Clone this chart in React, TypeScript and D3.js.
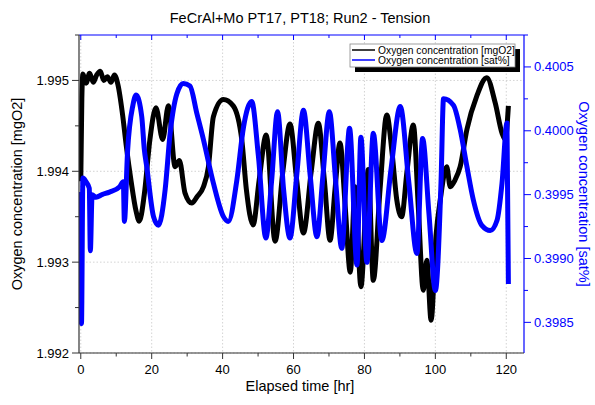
import React from "react";
import * as d3 from "d3";

// ---- Data ----
const TIME_MGO2 = [0, 0.3, 0.6, 1.5, 2.5, 3.5, 4.5, 5.5, 6.5, 7.5, 8.5, 9.5, 10.5, 11.8, 12.8, 14.2, 15.6, 16.5, 17.9, 19.5, 21.2, 23.1, 24.7, 26.6, 27.8, 29.4, 31.3, 32.8, 34.6, 36, 37.4, 40.2, 43, 45.4, 46.7, 48.6, 50.3, 52.3, 54.8, 57, 59, 60.9, 62.8, 65, 67, 68.7, 70.3, 71.7, 73.1, 74.6, 76, 77.4, 79, 81.1, 82.5, 84.4, 86.3, 87.8, 89.1, 90.5, 92, 93.8, 95.2, 96.6, 97.6, 98.8, 100.2, 101.4, 103.2, 104.2, 105.5, 107, 108.9, 111.7, 114.5, 116.9, 118.8, 119.7, 120.6];
const MGO2 = [1.99389, 1.9948, 1.99507, 1.99497, 1.99508, 1.99498, 1.99506, 1.9951, 1.995, 1.99504, 1.99498, 1.99506, 1.99495, 1.99462, 1.99429, 1.99389, 1.99356, 1.99345, 1.99374, 1.99435, 1.9947, 1.99435, 1.99472, 1.99405, 1.99412, 1.99376, 1.99365, 1.99372, 1.99383, 1.99405, 1.9946, 1.99479, 1.99472, 1.99435, 1.9938, 1.99341, 1.9939, 1.9944, 1.99323, 1.994, 1.99452, 1.9939, 1.99332, 1.994, 1.99453, 1.9939, 1.99324, 1.9938, 1.99431, 1.9936, 1.99289, 1.99383, 1.99273, 1.99402, 1.9928, 1.9938, 1.99462, 1.9942, 1.99369, 1.9935, 1.994, 1.99451, 1.9936, 1.99269, 1.99302, 1.99236, 1.9933, 1.99369, 1.99405, 1.99383, 1.9939, 1.99405, 1.99446, 1.99483, 1.99503, 1.99475, 1.99442, 1.99435, 1.99472];

const TIME_SAT = [0, 0.2, 0.6, 1.5, 2.4, 2.7, 3.2, 4.3, 6, 8.1, 10.9, 12, 12.3, 13.2, 14.7, 15.6, 17.2, 17.9, 18.6, 20.5, 21.9, 23.8, 25.2, 27.1, 28.9, 30.8, 32.7, 34.6, 37.4, 40.2, 41.6, 44, 45.9, 48.2, 50.1, 52.2, 53.8, 55.5, 57.2, 59, 60.9, 62.8, 64.7, 66.6, 68.3, 70.1, 71.9, 73.6, 75.8, 77.9, 79, 80.7, 82.5, 84.9, 87.5, 90.1, 92.5, 94.8, 96.4, 98.2, 100, 101.6, 102.3, 105.1, 107, 108.9, 110.7, 113.1, 115.5, 117.4, 118.8, 120.2, 120.6];
const SAT = [0.39952, 0.39849, 0.39963, 0.3996, 0.39955, 0.39906, 0.3995, 0.39948, 0.3995, 0.39952, 0.39956, 0.3996, 0.39929, 0.39984, 0.4002, 0.40028, 0.40011, 0.39986, 0.39972, 0.39933, 0.39926, 0.39954, 0.39998, 0.40029, 0.40037, 0.40035, 0.40014, 0.39993, 0.39959, 0.39933, 0.39929, 0.39961, 0.40003, 0.40023, 0.3998, 0.39916, 0.3996, 0.40015, 0.39954, 0.39916, 0.39965, 0.40016, 0.39965, 0.39917, 0.39965, 0.40015, 0.3996, 0.39908, 0.40002, 0.39895, 0.39995, 0.39897, 0.39998, 0.39914, 0.3997, 0.40019, 0.3996, 0.39904, 0.39994, 0.39935, 0.39875, 0.3996, 0.40025, 0.4002, 0.40001, 0.39972, 0.39946, 0.39926, 0.39922, 0.3993, 0.39959, 0.40006, 0.3988];

const X_TICKS = [0, 20, 40, 60, 80, 100, 120];
const X_MINOR = [10, 30, 50, 70, 90, 110];
const YL_TICKS = [1.992, 1.993, 1.994, 1.995];
const YL_MINOR = [1.9925, 1.9935, 1.9945, 1.9955];
const YR_TICKS = [0.3985, 0.399, 0.3995, 0.4, 0.4005];
const YR_MINOR = [0.39875, 0.39925, 0.39975, 0.40025, 0.40075];

const TITLE = "FeCrAl+Mo PT17, PT18; Run2 - Tension";
const X_LABEL = "Elapsed time [hr]";
const YL_LABEL = "Oxygen concentration [mgO2]";
const YR_LABEL = "Oxygen concentration [sat%]";
const LEGEND = ["Oxygen concentration [mgO2]", "Oxygen concentration [sat%]"];

const FONT = "'Liberation Sans', Arial, sans-serif";
const BLUE = "#0000ff";

export default function App() {
  const W = 595, H = 405;
  const L = 79, R = 524, T = 35, B = 353;
  const x = d3.scaleLinear().domain([-0.5, 125]).range([L, R]);
  const yL = d3.scaleLinear().domain([1.992, 1.9955]).range([B, T]);
  const yR = d3.scaleLinear().domain([0.39826, 0.40075]).range([B, T]);

  const blackPts = TIME_MGO2.map((t, i) => [t, MGO2[i]] as [number, number]);
  const bluePts = TIME_SAT.map((t, i) => [t, SAT[i]] as [number, number]);
  const lineL = d3.line<[number, number]>().x(d => x(d[0])).y(d => yL(d[1])).curve(d3.curveMonotoneX);
  const lineR = d3.line<[number, number]>().x(d => x(d[0])).y(d => yR(d[1])).curve(d3.curveMonotoneX);

  const legX = 350, legY = 44, legW = 165, legH = 23;

  return (
    <svg width={W} height={H} style={{ position: "absolute", left: 0, top: 0, background: "#fff" }} fontFamily={FONT}>
      <defs>
        <clipPath id="plot"><rect x={L} y={T} width={R - L} height={B - T} /></clipPath>
      </defs>
      <rect x={0} y={0} width={W} height={H} fill="#fff" />
      {/* grid */}
      {X_TICKS.map(v => (
        <line key={"gx" + v} x1={x(v)} x2={x(v)} y1={T} y2={B} stroke="#c8c8c8" strokeWidth={0.8} strokeDasharray="1.5,2" />
      ))}
      {YL_TICKS.map(v => (
        <line key={"gy" + v} x1={L} x2={R} y1={yL(v)} y2={yL(v)} stroke="#c8c8c8" strokeWidth={0.8} strokeDasharray="1.5,2" />
      ))}
      {/* data */}
      <g clipPath="url(#plot)">
        <path d={lineL(blackPts) || ""} fill="none" stroke="#000" strokeWidth={5} strokeLinejoin="round" />
        <path d={lineR(bluePts) || ""} fill="none" stroke={BLUE} strokeWidth={5} strokeLinejoin="round" />
      </g>
      {/* top axis (blue) */}
      <line x1={L} x2={R} y1={T} y2={T} stroke={BLUE} strokeWidth={1.2} />
      {X_TICKS.map(v => <line key={"tt" + v} x1={x(v)} x2={x(v)} y1={T} y2={T + 5} stroke={BLUE} strokeWidth={1} />)}
      {X_MINOR.map(v => <line key={"ttm" + v} x1={x(v)} x2={x(v)} y1={T} y2={T + 3} stroke={BLUE} strokeWidth={1} />)}
      {/* right axis (blue) */}
      <line x1={R} x2={R} y1={T} y2={B} stroke={BLUE} strokeWidth={1.2} />
      {YR_TICKS.map(v => (
        <g key={"yr" + v}>
          <line x1={R} x2={R + 7} y1={yR(v)} y2={yR(v)} stroke={BLUE} strokeWidth={1} />
          <text x={R + 10} y={yR(v)} dy="0.35em" fontSize={13} fill={BLUE}>{v.toFixed(4)}</text>
        </g>
      ))}
      {YR_MINOR.map(v => <line key={"yrm" + v} x1={R} x2={R + 4} y1={yR(v)} y2={yR(v)} stroke={BLUE} strokeWidth={1} />)}
      {/* left axis */}
      <line x1={L} x2={L} y1={T} y2={B} stroke="#333" strokeWidth={1.2} />
      {YL_TICKS.map(v => (
        <g key={"yl" + v}>
          <line x1={L - 7} x2={L} y1={yL(v)} y2={yL(v)} stroke="#333" strokeWidth={1} />
          <text x={L - 10} y={yL(v)} dy="0.35em" fontSize={13} textAnchor="end" fill="#000">{v.toFixed(3)}</text>
        </g>
      ))}
      {YL_MINOR.map(v => <line key={"ylm" + v} x1={L - 4} x2={L} y1={yL(v)} y2={yL(v)} stroke="#333" strokeWidth={1} />)}
      {/* bottom axis */}
      <line x1={L} x2={R} y1={B} y2={B} stroke="#333" strokeWidth={1.2} />
      {X_TICKS.map(v => (
        <g key={"xb" + v}>
          <line x1={x(v)} x2={x(v)} y1={B} y2={B + 6} stroke="#333" strokeWidth={1} />
          <text x={x(v)} y={B + 21} fontSize={13} textAnchor="middle" fill="#000">{v}</text>
        </g>
      ))}
      {X_MINOR.map(v => <line key={"xbm" + v} x1={x(v)} x2={x(v)} y1={B} y2={B + 3.5} stroke="#333" strokeWidth={1} />)}
      {/* labels */}
      <text x={300} y={23} fontSize={14.5} textAnchor="middle" fill="#000">{TITLE}</text>
      <text x={300} y={391} fontSize={14.5} textAnchor="middle" fill="#000">{X_LABEL}</text>
      <text transform={`translate(22,${(T + B) / 2}) rotate(-90)`} fontSize={14.5} textAnchor="middle" fill="#000">{YL_LABEL}</text>
      <text transform={`translate(579,${(T + B) / 2}) rotate(90)`} fontSize={14.5} textAnchor="middle" fill={BLUE}>{YR_LABEL}</text>
      {/* legend */}
      <rect x={legX + 5} y={legY + 5} width={legW} height={legH} fill="#000" />
      <rect x={legX} y={legY} width={legW} height={legH} fill="#fff" stroke="#888" strokeWidth={0.8} />
      <line x1={legX + 2} x2={legX + 25} y1={legY + 6} y2={legY + 6} stroke="#000" strokeWidth={1.5} />
      <text x={legX + 28} y={legY + 6} dy="0.35em" fontSize={10.3} fill="#000">{LEGEND[0]}</text>
      <line x1={legX + 2} x2={legX + 25} y1={legY + 16} y2={legY + 16} stroke={BLUE} strokeWidth={1.5} />
      <text x={legX + 28} y={legY + 16} dy="0.35em" fontSize={10.3} fill="#000">{LEGEND[1]}</text>
    </svg>
  );
}
